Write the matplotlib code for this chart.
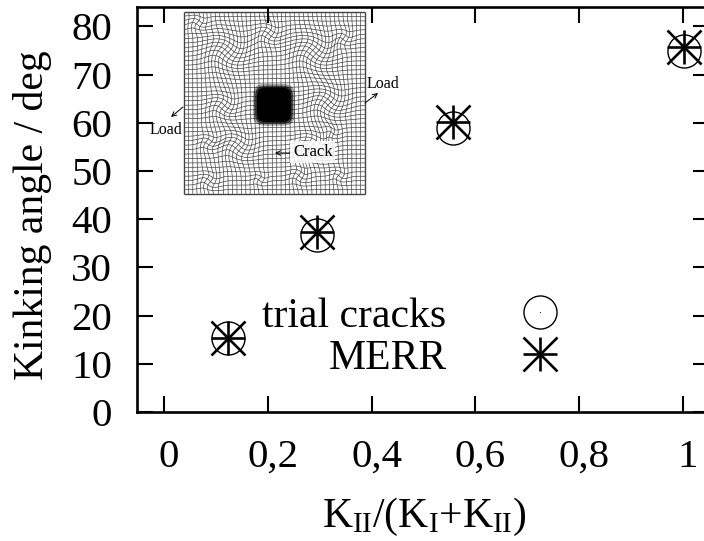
import numpy as np
import matplotlib
matplotlib.use("Agg")
import matplotlib.pyplot as plt
from matplotlib.lines import Line2D
from matplotlib.patches import Polygon, FancyArrowPatch
from matplotlib.transforms import ScaledTranslation

plt.rcParams['font.family'] = ['Liberation Serif', 'DejaVu Serif']
plt.rcParams['mathtext.fontset'] = 'stix'

# data
ratio_trial = [0.123, 0.295, 0.5575, 1.001]
angle_trial = [15.3, 36.7, 59.0, 74.8]
ratio_merr = [0.123, 0.295, 0.5575, 1.001]
angle_merr = [15.3, 37.4, 60.1, 75.8]
x_ticks = [0, 0.2, 0.4, 0.6, 0.8, 1.0]
x_tick_labels = ['0', '0,2', '0,4', '0,6', '0,8', '1']
y_ticks = [0, 10, 20, 30, 40, 50, 60, 70, 80]
labels = ['trial cracks', 'MERR']
# rotated patches of the mesh picture: centre x, centre y, radius, turn (unit square, y down)
swirl_cx = [.08, .24, .47, .72, .88, .22, .80, .14, .30, .72, .86, .42, .64, .14, .82]
swirl_cy = [.06, .22, .12, .22, .14, .52, .50, .72, .74, .74, .90, .92, .90, .93, .66]
swirl_r = [.045, .10, .06, .10, .05, .07, .09, .05, .08, .08, .04, .035, .05, .05, .04]
swirl_t = [.8, .8, .8, .8, .8, .8, .8, .8, .8, .8, .8, .8, .8, .8, .8]

W, H = 704, 541
fig = plt.figure(figsize=(W / 100, H / 100), dpi=100)

def box(x0, y0, x1, y1):
    return [x0 / W, 1 - y1 / H, (x1 - x0) / W, (y1 - y0) / H]

def px(x, y):
    return (x / W, 1 - y / H)

L, R, T, B = 137, 709, 7, 412
ax = fig.add_axes(box(L, T, R, B), zorder=1)
ax.patch.set_visible(False)
ax.set_xlim((L - 164) / 519, (R - 164) / 519)
ax.set_ylim(0, (412 - 7) / 4.82)
for s in ax.spines.values():
    s.set_linewidth(1.9)
ax.set_xticks(x_ticks, x_tick_labels)
ax.set_yticks(y_ticks)
ax.tick_params(direction='in', top=True, right=True, length=11.5, width=1.5, labelsize=29.5)
ax.tick_params(axis='x', pad=19.5)
ax.tick_params(axis='y', pad=18)
shift = ScaledTranslation(5 / 100, 0, fig.dpi_scale_trans)
for lab in ax.get_xticklabels():
    lab.set_transform(lab.get_transform() + shift)

ax.set_xlabel(r'$\mathregular{K_{II}/(K_{I}{+}K_{II})}$', fontsize=30, va='baseline')
ax.xaxis.set_label_coords((424 - L) / (R - L), (B - 527) / (B - T))
ax.set_ylabel('Kinking angle / deg', fontsize=30)
ax.yaxis.set_label_coords((52 - L) / (R - L), (B - 215) / (B - T))

ms, lw = 23.8, 1.9
ax.plot(ratio_trial, angle_trial, ls='none', marker='o', ms=ms, mfc='none', mec='k', mew=1.0, clip_on=False)
ax.plot(ratio_merr, angle_merr, ls='none', marker='+', ms=ms, mec='k', mew=lw, clip_on=False)
ax.plot(ratio_merr, angle_merr, ls='none', marker='x', ms=ms, mec='k', mew=lw, clip_on=False)

# legend
h1a = Line2D([], [], ls='none', marker='o', ms=ms, mfc='none', mec='k', mew=1.0)
h1b = Line2D([], [], ls='none', marker='o', ms=0.8, mfc='k', mec='none')
h2a = Line2D([], [], ls='none', marker='+', ms=ms, mec='k', mew=lw)
h2b = Line2D([], [], ls='none', marker='x', ms=ms, mec='k', mew=lw)
ax.legend([(h1a, h1b), (h2a, h2b)], labels, markerfirst=False, frameon=False, fontsize=30,
          loc='center right', bbox_to_anchor=px(561, 337.5), bbox_transform=fig.transFigure,
          handletextpad=1.75, handlelength=1.0, labelspacing=0.09, borderpad=0, borderaxespad=0)

# inset mesh picture
ins = fig.add_axes(box(184, 12, 365, 194), zorder=0.5)
ins.set_xlim(0, 1); ins.set_ylim(1, 0)
ins.set_xticks([]); ins.set_yticks([])
for s in ins.spines.values():
    s.set_visible(False)

def warp(x, y):
    xo, yo = x.copy(), y.copy()
    for cx, cy, r, t in zip(swirl_cx, swirl_cy, swirl_r, swirl_t):
        dx, dy = x - cx, y - cy
        a = t * np.exp(-(dx**2 + dy**2) / r**2)
        xo += dx * (np.cos(a) - 1) - dy * np.sin(a)
        yo += dx * np.sin(a) + dy * (np.cos(a) - 1)
    return xo, yo

n = 41
s = np.linspace(0, 1, 500)
for g in np.linspace(0, 1, n + 1):
    edge = g in (0.0, 1.0)
    for a, b in ((np.full_like(s, g), s), (s, np.full_like(s, g))):
        xx, yy = (a, b) if edge else warp(a, b)
        ins.plot(xx, yy, color='#444444', lw=1.0 if edge else 0.5, solid_capstyle='butt', clip_on=not edge)

# black refined zone
t = np.linspace(0, 2 * np.pi, 200)
bx, by = 0.497, 0.51
for rad, al in ((.115, .35), (.105, .6), (.095, 1.0), (.085, 1.0)):
    ex = 2 / 5
    xs = bx + rad * np.sign(np.cos(t)) * np.abs(np.cos(t))**ex
    ys = by + rad * np.sign(np.sin(t)) * np.abs(np.sin(t))**ex
    ins.add_patch(Polygon(np.c_[xs, ys], closed=True, fc='k', ec='none', alpha=al, zorder=5))

# annotation texts
arrow = dict(arrowstyle='->', color='k', lw=0.7, mutation_scale=8, shrinkA=0, shrinkB=0)
ft = fig.transFigure
for (tx, ty, ha, xy0, xy1) in [(367, 84, 'left', (365, 103), (378, 93)),
                               (182, 130, 'right', (183, 107), (171, 117))]:
    fig.text(*px(tx, ty), 'Load', fontsize=11.5, ha=ha, va='center', zorder=3)
    fig.add_artist(FancyArrowPatch(px(*xy0), px(*xy1), transform=ft, zorder=3, **arrow))
fig.text(*px(293, 152), 'Crack', fontsize=12, ha='left', va='center', zorder=3,
         bbox=dict(fc='white', ec='none', alpha=.85, pad=2))
fig.add_artist(FancyArrowPatch(px(290, 153), px(275, 153), transform=ft, zorder=3, **arrow))

fig.savefig('out.png', dpi=100)
